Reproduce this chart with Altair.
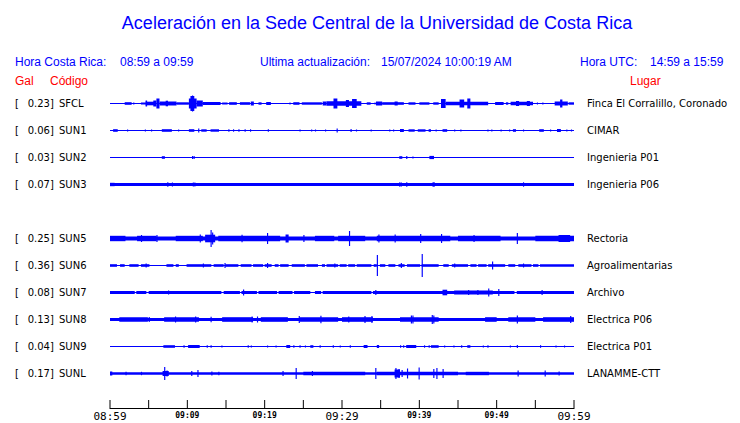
import altair as alt
import pandas as pd

# ---------------- data ----------------
title = "Aceleración en la Sede Central de la Universidad de Costa Rica"
codes = ["SFCL", "SUN1", "SUN2", "SUN3", "SUN5", "SUN6", "SUN7", "SUN8", "SUN9", "SUNL"]
rows = [0, 1, 2, 3, 5, 6, 7, 8, 9, 10]
pga = ["0.23]", "0.06]", "0.03]", "0.07]", "0.25]", "0.36]", "0.08]", "0.13]", "0.04]", "0.17]"]
places = ["Finca El Corralillo, Coronado", "CIMAR", "Ingenieria P01", "Ingenieria P06",
          "Rectoria", "Agroalimentarias", "Archivo", "Electrica P06", "Electrica P01", "LANAMME-CTT"]

# background amplitude of each trace (relative units)
base_amp = [0.5, 0.5, 0.5, 1.4, 2.0, 0.5, 0.5, 1.5, 0.5, 1.3]

# envelope segments: [start minute, end minute, amplitude]
seg_SFCL = [[1.9,2.8,1.3],[4.0,4.6,1.0],[4.6,5.7,1.8],[4.6,4.8,3.0],[5.6,6.0,3.0],[6.0,6.4,5.0],
            [6.4,8.6,2.0],[7.2,7.5,2.8],[8.6,10.2,1.2],[10.2,11.2,5.0],[10.4,10.9,7.5],[11.2,12.0,3.0],
            [12.0,14.3,1.5],[14.5,15.2,1.0],[15.4,16.4,1.3],[16.8,18.1,1.3],[18.2,18.6,2.0],[19.2,19.6,1.2],
            [20.2,20.8,1.5],[23.7,24.5,1.3],[24.8,27.4,1.2],[27.5,28.0,2.0],[28.0,32.5,2.2],[28.9,29.4,5.0],
            [30.5,30.9,3.5],[31.3,31.9,4.5],[33.2,33.7,1.2],[34.4,35.2,2.0],[35.2,38.0,1.3],[36.8,37.2,2.0],
            [38.6,39.5,1.2],[40.0,41.3,1.2],[41.8,42.5,1.2],[42.8,43.4,4.5],[43.4,48.9,1.7],[45.2,45.8,4.0],
            [46.2,46.6,5.0],[49.8,50.9,1.5],[51.2,51.5,1.2],[51.8,54.7,1.7],[52.5,52.9,2.5],[53.9,54.3,2.5],
            [57.5,59.2,2.0],[58.2,58.5,4.0],[59.3,60.0,1.2]]
seg_SUN1 = [[0.4,1.0,1.3],[6.7,8.0,1.3],[10.2,10.9,1.3],[11.8,12.5,1.2],[13.0,14.1,1.2],[37.5,38.0,1.5],
            [38.6,39.4,1.2],[39.8,40.8,1.2],[41.2,41.5,1.3],[43.0,43.6,1.3],[52.1,52.5,1.3],[55.5,56.1,1.3],
            [57.8,58.3,1.5]]
seg_SUN2 = [[6.7,7.1,1.3],[37.4,37.8,1.3],[41.3,41.9,1.6]]
seg_SUN3 = [[0.0,0.6,1.7],[41.7,42.0,2.2]]
seg_SUN5 = [[0.0,2.0,2.7],[3.5,6.0,2.7],[8.5,12.0,2.7],[12.3,13.6,3.8],[14.0,22.0,2.7],[22.7,23.1,4.0],
            [26.5,29.0,2.7],[29.5,33.0,2.7],[34.5,44.0,2.7],[45.0,50.5,2.7],[55.0,60.0,2.7],[58.0,59.5,3.5]]
seg_SUN6 = [[0.0,0.9,1.3],[1.3,1.9,1.3],[2.5,3.7,1.3],[4.0,5.1,1.3],[7.3,8.2,1.3],[8.5,8.9,1.3],
            [9.9,13.1,1.3],[13.4,14.7,1.3],[14.9,16.6,1.3],[16.9,18.3,1.3],[18.5,19.8,1.3],[20.0,20.9,1.3],
            [21.3,21.8,1.3],[22.0,23.1,1.3],[23.5,25.2,1.3],[25.4,26.9,1.3],[27.4,27.8,1.3],[28.0,29.5,1.3],
            [29.7,30.6,1.3],[30.8,31.7,1.3],[31.9,33.8,1.3],[34.1,34.5,1.3],[34.9,35.6,1.3],[36.0,36.9,1.3],
            [37.3,38.1,1.3],[38.4,40.1,1.3],[40.3,42.5,1.3],[43.1,43.8,1.3],[44.2,46.3,1.3],[46.6,47.4,1.3],
            [47.6,48.7,1.3],[48.9,51.1,1.3],[51.5,52.4,1.3],[52.8,54.5,1.3],[54.7,55.4,1.3],[55.6,60.0,1.3]]
seg_SUN7 = [[0.0,3.2,1.5],[3.4,4.7,1.5],[5.0,14.4,1.5],[14.7,16.8,1.5],[17.0,19.0,1.5],[19.2,21.6,1.5],
            [21.8,23.6,1.5],[23.8,25.9,1.5],[26.5,27.3,1.5],[27.5,33.8,1.5],[34.0,52.3,1.5],[52.6,60.0,1.5],
            [43.0,43.6,2.8],[44.5,49.5,2.0]]
seg_SUN8 = [[1.2,4.9,2.3],[7.0,11.5,2.3],[14.5,18.5,2.3],[19.5,23.0,2.3],[24.5,29.5,2.3],[30.0,34.0,2.3],
            [37.5,42.5,2.3],[48.5,50.0,2.3],[51.5,55.0,2.3],[56.0,60.0,2.3]]
seg_SUN9 = [[6.9,8.4,1.3],[10.1,11.6,1.5],[22.8,23.3,1.5],[25.9,26.3,1.3],[32.8,33.3,1.5],[34.5,34.8,1.5],
            [38.3,39.6,1.5],[41.5,42.5,1.3],[46.2,46.6,1.3]]
seg_SUNL = [[0.0,0.3,2.0],[25.0,33.0,1.7],[34.5,45.0,1.7],[46.0,49.0,1.7],[36.8,37.5,4.0],[6.8,7.6,2.5]]

# single spikes: [minute, amplitude]
spk_SFCL = [[3.0,1.0],[23.2,1.0],[34.2,1.0],[55.2,1.0],[55.9,1.0],[10.6,8.0]]
spk_SUN1 = [[2.2,1.0],[4.5,1.0],[5.3,1.0],[8.8,1.0],[11.4,2.0],[15.3,1.2],[15.9,1.2],[16.6,1.2],[17.4,1.2],
            [18.1,1.2],[20.4,1.2],[24.5,1.0],[26.0,1.0],[26.5,1.0],[27.8,1.0],[29.3,2.0],[31.1,1.5],[31.8,1.0],
            [33.7,1.0],[36.1,1.0],[36.6,1.0],[42.1,1.0],[44.5,1.0],[45.3,1.0],[48.8,1.0],[49.3,1.0],[50.5,1.0],
            [51.6,1.0],[53.4,1.0],[56.9,1.0],[59.0,1.0],[59.6,1.0]]
spk_SUN2 = [[10.6,1.5],[10.8,1.5],[38.3,1.5],[39.1,1.0]]
spk_SUN3 = [[7.4,2.2],[8.0,2.0],[10.7,2.0],[10.9,2.0],[37.4,2.2],[37.6,2.0],[38.3,2.2],[53.4,2.2]]
spk_SUN5 = [[13.0,8.5],[13.2,6.0],[11.6,4.0],[20.3,5.5],[30.9,7.5],[34.7,4.0],[36.8,4.0],[40.1,4.5],
            [42.8,4.5],[52.6,5.5],[4.0,3.5],[6.0,3.5],[17.0,3.8],[25.0,3.5],[47.0,3.6]]
spk_SUN6 = [[34.5,10.5],[40.3,11.5],[49.4,4.0],[20.3,2.5],[14.8,2.5],[4.6,2.0],[37.6,2.5],[53.4,2.0],
            [12.0,2.0],[29.0,2.0],[44.5,2.0]]
spk_SUN7 = [[7.5,2.0],[17.2,3.0],[34.3,2.5],[48.9,4.0],[50.2,3.5],[55.8,2.5],[47.5,2.5],[46.3,2.5]]
spk_SUN8 = [[5.0,2.5],[11.0,3.0],[18.3,3.0],[19.0,3.0],[24.4,3.5],[27.2,3.7],[30.8,3.0],[32.9,3.5],
            [33.8,3.5],[38.9,4.0],[39.1,4.0],[41.6,4.5],[41.8,4.0],[52.6,4.0],[59.5,3.5],[8.4,3.0],[13.0,2.8]]
spk_SUN9 = [[9.5,1.2],[10.2,1.2],[12.5,1.2],[13.0,1.2],[14.4,1.0],[17.8,1.2],[18.2,1.0],[20.3,1.0],
            [21.4,1.0],[23.7,1.2],[24.5,1.2],[25.2,1.0],[27.1,1.2],[28.8,1.2],[29.7,1.0],[31.0,1.2],
            [37.5,1.2],[37.9,1.2],[40.6,1.2],[41.2,1.2],[43.2,1.0],[44.4,1.0],[45.4,1.2],[48.2,1.0],
            [48.8,1.2],[51.7,1.0],[52.6,1.5],[55.6,1.3],[57.6,1.0],[58.7,1.0]]
spk_SUNL = [[7.0,6.5],[7.3,3.0],[10.5,2.5],[11.3,3.5],[13.1,2.0],[22.3,2.5],[24.0,5.5],[26.1,2.5],
            [34.3,5.5],[36.9,5.5],[37.3,4.5],[37.7,3.5],[38.4,5.0],[39.9,6.0],[41.8,4.5],[42.2,5.5],
            [43.0,4.5],[52.7,3.0],[56.2,3.0],[58.0,2.0],[14.0,1.8],[2.0,1.7],[4.0,1.7]]

segments = [seg_SFCL, seg_SUN1, seg_SUN2, seg_SUN3, seg_SUN5, seg_SUN6, seg_SUN7, seg_SUN8, seg_SUN9, seg_SUNL]
spikes = [spk_SFCL, spk_SUN1, spk_SUN2, spk_SUN3, spk_SUN5, spk_SUN6, spk_SUN7, spk_SUN8, spk_SUN9, spk_SUNL]

tick_minutes = [0, 5, 10, 15, 20, 25, 30, 35, 40, 45, 50, 55, 60]
major_minutes = [0, 30, 60]
major_labels = ["08:59", "09:29", "09:59"]
minor_minutes = [10, 20, 40, 50]
minor_labels = ["09:09", "09:19", "09:39", "09:49"]

# ---------------- build tables ----------------
ROW = 27
SPIKE_W = 0.15
recs = []
for r, b, segs, spks in zip(rows, base_amp, segments, spikes):
    c = r * ROW
    recs.append(dict(t0=0.0, t1=60.0, y0=c - b, y1=c + b))
    for t0, t1, a in segs:
        recs.append(dict(t0=t0, t1=t1, y0=c - a, y1=c + a))
    for t, a in spks:
        recs.append(dict(t0=t, t1=t + SPIKE_W, y0=c - a, y1=c + a))
trace_df = pd.DataFrame(recs)

lab_df = pd.DataFrame({"yc": [r * ROW for r in rows], "pga": pga, "code": codes, "place": places})

BLUE = "#0000ff"
RED = "#ff0000"
xs = alt.Scale(domain=[0, 60], range=[102, 566])
ys = alt.Scale(domain=[0, 270], range=[95.5, 365.5])

traces = alt.Chart(trace_df).mark_rect(color=BLUE).encode(
    x=alt.X("t0:Q", scale=xs, axis=None), x2="t1:Q",
    y=alt.Y("y0:Q", scale=ys, axis=None), y2="y1:Q")


def lab(field, x, align="left"):
    return alt.Chart(lab_df).mark_text(align=align, baseline="middle", font="DejaVu Sans",
                                       fontSize=10, color="black").encode(
        x=alt.value(x), y=alt.Y("yc:Q", scale=ys, axis=None), text=f"{field}:N")


bracket = alt.Chart(lab_df).mark_text(align="left", baseline="middle", font="DejaVu Sans",
                                      fontSize=10, color="black", text="[").encode(
    x=alt.value(7), y=alt.Y("yc:Q", scale=ys, axis=None))


def txt(s, x, y, size, color, font="Liberation Sans", align="left", weight="normal"):
    return alt.Chart(pd.DataFrame({"t": [s]})).mark_text(
        align=align, baseline="alphabetic", fontSize=size, font=font, color=color,
        fontWeight=weight).encode(x=alt.value(x), y=alt.value(y), text="t:N")


axis_line = alt.Chart(pd.DataFrame({"a": [0], "b": [60]})).mark_rule(color="black", strokeWidth=1).encode(
    x=alt.X("a:Q", scale=xs, axis=None), x2="b:Q", y=alt.value(400.5))
ticks = alt.Chart(pd.DataFrame({"t": tick_minutes})).mark_rule(color="black", strokeWidth=1).encode(
    x=alt.X("t:Q", scale=xs, axis=None), y=alt.value(392), y2=alt.value(401))
major = alt.Chart(pd.DataFrame({"t": major_minutes, "l": major_labels})).mark_text(
    align="center", baseline="alphabetic", font="DejaVu Sans Mono", fontSize=11, color="black").encode(
    x=alt.X("t:Q", scale=xs, axis=None), y=alt.value(412), text="l:N")
minor = alt.Chart(pd.DataFrame({"t": minor_minutes, "l": minor_labels})).mark_text(
    align="center", baseline="alphabetic", font="DejaVu Sans Mono", fontSize=8, fontWeight="bold",
    color="black").encode(
    x=alt.X("t:Q", scale=xs, axis=None), y=alt.value(410.3), text="l:N")

headers = [
    txt(title, 369, 21, 18, BLUE, align="center"),
    txt("Hora Costa Rica:", 7, 57.5, 12, BLUE),
    txt("08:59 a 09:59", 112, 57.5, 12, BLUE),
    txt("Ultima actualización:", 252, 57.5, 12, BLUE),
    txt("15/07/2024 10:00:19 AM", 373, 57.5, 12, BLUE),
    txt("Hora UTC:", 572, 57.5, 12, BLUE),
    txt("14:59 a 15:59", 642, 57.5, 12, BLUE),
    txt("Gal", 7, 76.5, 12, RED),
    txt("Código", 42, 76.5, 12, RED),
    txt("Lugar", 622, 76.5, 12, RED),
]

chart = alt.layer(
    traces, bracket, lab("pga", 19.7), lab("code", 51), lab("place", 579),
    axis_line, ticks, major, minor, *headers
).properties(
    width=724, height=415, padding=0, autosize=alt.AutoSizeParams(type="none"), background="white"
).configure_view(stroke=None)

chart.save("out.html", embed_options={"renderer": "svg", "actions": False})
